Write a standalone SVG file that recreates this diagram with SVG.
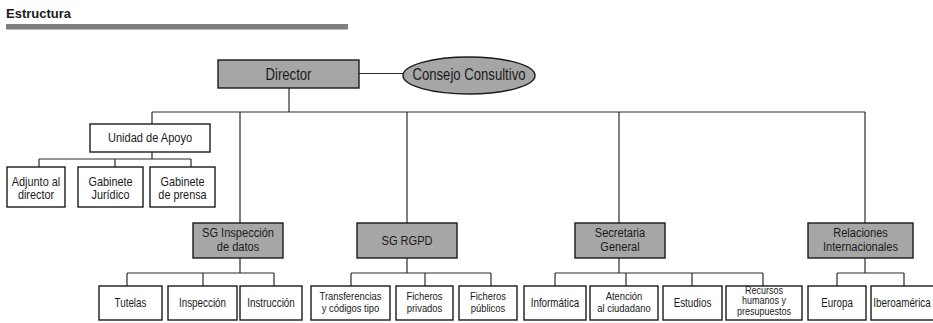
<svg xmlns="http://www.w3.org/2000/svg" width="933" height="323" viewBox="0 0 933 323">
<style>
.bg{fill:#fff}
.g{fill:#a6a6a6;stroke:#1a1a1a;stroke-width:1.4}
.w{fill:#fff;stroke:#1a1a1a;stroke-width:1.4}
.c{fill:none;stroke:#2a2a2a;stroke-width:1.2}
text{font-family:"Liberation Sans",Arial,sans-serif;fill:#1a1a1a;text-anchor:middle}
.t1{font-size:16px}
.t2{font-size:13.5px}
.t2b{font-size:12.5px}
.t3{font-size:12px}
.t3b{font-size:11.5px}
.t4{font-size:11px}
.title{font-weight:bold;font-size:13px;text-anchor:start}
</style>
<rect class="bg" x="0" y="0" width="933" height="323"/>
<g id="header">
<text class="title" x="6" y="18">Estructura</text>
<rect x="6" y="24" width="342" height="5.5" fill="#7f7f7f"/>
</g>
<g id="connectors">
<path class="c" d="M359,73.5H403"/>
<path class="c" d="M289,88V112M152,112H865M152,112V124M240,112V223M407,112V223M619,112V223M865,112V223"/>
<path class="c" d="M152,152V159M39,159H191M39,159V167M115,159V167M191,159V167"/>
<path class="c" d="M240,258V273M127,273H274M127,273V286M203,273V286M274,273V286"/>
<path class="c" d="M407,258V273M351,273H491M351,273V286M425,273V286M491,273V286"/>
<path class="c" d="M619,258V273M555,273H763M555,273V286M626,273V286M692,273V286M763,273V286"/>
<path class="c" d="M865,258V273M837,273H904M837,273V286M904,273V286"/>
</g>
<g id="director"><rect class="g" x="218" y="60" width="141" height="28"/><text class="t1" transform="matrix(.82 0 0 1 288.5 0)" x="0" y="80">Director</text></g>
<g id="consejo"><ellipse class="g" cx="469" cy="75.5" rx="66" ry="18.5"/><text class="t1" transform="matrix(.82 0 0 1 469 0)" x="0" y="80">Consejo Consultivo</text></g>
<g id="unidad"><rect class="w" x="90" y="124" width="120" height="28"/><text class="t2" transform="matrix(.82 0 0 1 150 0)" x="0" y="142.5">Unidad de Apoyo</text></g>
<g id="adjunto"><rect class="w" x="7" y="167" width="58" height="40"/><text class="t2b" transform="matrix(.87 0 0 1 36 0)" y="186.5"><tspan x="0">Adjunto al</tspan><tspan x="0" dy="12.8">director</tspan></text></g>
<g id="juridico"><rect class="w" x="78" y="167" width="65" height="40"/><text class="t2b" transform="matrix(.87 0 0 1 110.5 0)" y="186.5"><tspan x="0">Gabinete</tspan><tspan x="0" dy="12.8">Jurídico</tspan></text></g>
<g id="prensa"><rect class="w" x="150" y="167" width="65" height="40"/><text class="t2b" transform="matrix(.87 0 0 1 182.5 0)" y="186.5"><tspan x="0">Gabinete</tspan><tspan x="0" dy="12.8">de prensa</tspan></text></g>
<g id="sginsp"><rect class="g" x="193" y="223" width="90" height="35"/><text class="t2" transform="matrix(.82 0 0 1 238 0)" y="237.5"><tspan x="0">SG Inspección</tspan><tspan x="0" dy="14">de datos</tspan></text></g>
<g id="sgrgpd"><rect class="g" x="357" y="223" width="100" height="35"/><text class="t2" transform="matrix(.82 0 0 1 407 0)" x="0" y="245.5">SG RGPD</text></g>
<g id="secretaria"><rect class="g" x="575" y="223" width="90" height="35"/><text class="t2" transform="matrix(.82 0 0 1 620 0)" y="237.5"><tspan x="0">Secretaria</tspan><tspan x="0" dy="14">General</tspan></text></g>
<g id="relaciones"><rect class="g" x="808" y="223" width="105" height="35"/><text class="t2" transform="matrix(.82 0 0 1 860.5 0)" y="237.5"><tspan x="0">Relaciones</tspan><tspan x="0" dy="14">Internacionales</tspan></text></g>
<g id="tutelas"><rect class="w" x="99" y="286" width="63" height="34"/><text class="t3" transform="matrix(.82 0 0 1 130.5 0)" x="0" y="307">Tutelas</text></g>
<g id="inspeccion"><rect class="w" x="168" y="286" width="69" height="34"/><text class="t3" transform="matrix(.82 0 0 1 202.5 0)" x="0" y="307">Inspección</text></g>
<g id="instruccion"><rect class="w" x="240" y="286" width="62" height="34"/><text class="t3" transform="matrix(.82 0 0 1 271 0)" x="0" y="307">Instrucción</text></g>
<g id="transferencias"><rect class="w" x="311" y="286" width="79" height="34"/><text class="t3b" transform="matrix(.82 0 0 1 350.5 0)" y="300.5"><tspan x="0">Transferencias</tspan><tspan x="0" dy="11.5">y códigos tipo</tspan></text></g>
<g id="privados"><rect class="w" x="396" y="286" width="57" height="34"/><text class="t3b" transform="matrix(.82 0 0 1 424.5 0)" y="300.5"><tspan x="0">Ficheros</tspan><tspan x="0" dy="11.5">privados</tspan></text></g>
<g id="publicos"><rect class="w" x="459" y="286" width="58" height="34"/><text class="t3b" transform="matrix(.82 0 0 1 488 0)" y="300.5"><tspan x="0">Ficheros</tspan><tspan x="0" dy="11.5">públicos</tspan></text></g>
<g id="informatica"><rect class="w" x="524" y="286" width="62" height="34"/><text class="t3" transform="matrix(.82 0 0 1 555 0)" x="0" y="307">Informática</text></g>
<g id="atencion"><rect class="w" x="590" y="286" width="68" height="34"/><text class="t3b" transform="matrix(.82 0 0 1 624 0)" y="300.5"><tspan x="0">Atención</tspan><tspan x="0" dy="11.5">al ciudadano</tspan></text></g>
<g id="estudios"><rect class="w" x="663" y="286" width="59" height="34"/><text class="t3" transform="matrix(.82 0 0 1 692.5 0)" x="0" y="307">Estudios</text></g>
<g id="recursos"><rect class="w" x="726" y="286" width="76" height="34"/><text class="t4" transform="matrix(.82 0 0 1 764 0)" y="294"><tspan x="0">Recursos</tspan><tspan x="0" dy="10.5">humanos y</tspan><tspan x="0" dy="10.5">presupuestos</tspan></text></g>
<g id="europa"><rect class="w" x="808" y="286" width="58" height="34"/><text class="t3" transform="matrix(.82 0 0 1 837 0)" x="0" y="307">Europa</text></g>
<g id="iberoamerica"><rect class="w" x="871" y="286" width="65" height="34"/><text class="t3" transform="matrix(.82 0 0 1 902 0)" x="0" y="307">Iberoamérica</text></g>
</svg>
